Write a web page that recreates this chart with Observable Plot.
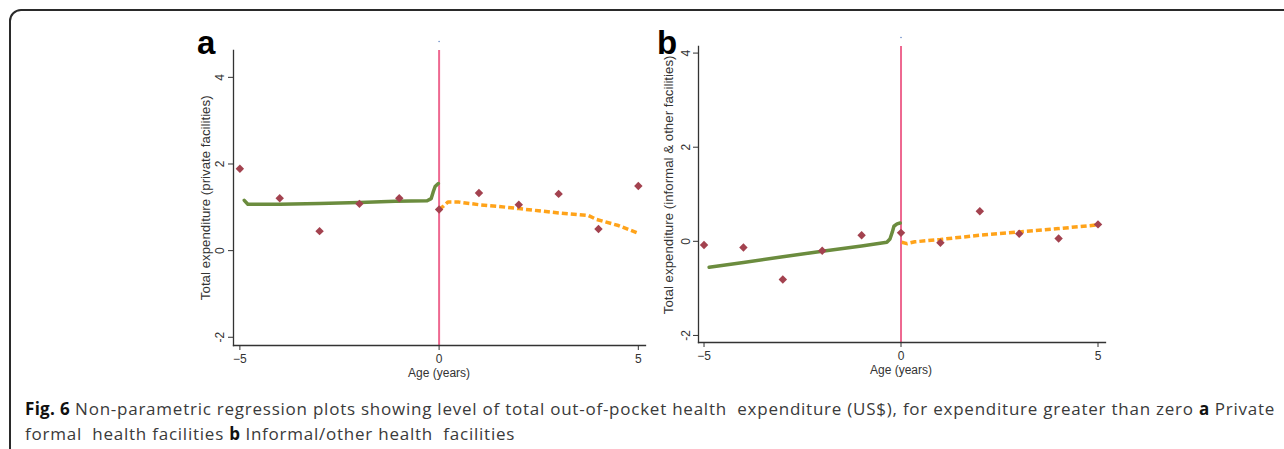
<!DOCTYPE html>
<html>
<head>
<meta charset="utf-8">
<script src="https://cdn.jsdelivr.net/npm/d3@7"></script>
<script src="https://cdn.jsdelivr.net/npm/@observablehq/plot@0.6"></script>
<style>
  html, body { margin: 0; padding: 0; background: #fff; width: 1284px; height: 449px; overflow: hidden; }
  #frame { position: absolute; left: 9px; top: 9px; width: 1300px; height: 480px; border: 2px solid #2a2a2a; border-radius: 12px; box-sizing: border-box; }
  .panel { position: absolute; top: 30px; }
  .letter { position: absolute; font-family: "Liberation Sans", Arial, sans-serif; font-weight: bold; font-size: 33px; line-height: 1; color: #000; }
  #caption { position: absolute; left: 25px; top: 396px; width: 1260px; font-family: "Open Sans", sans-serif; font-size: 17px; letter-spacing: 0.76px; line-height: 25px; color: #3a3a3a; white-space: nowrap; }
  #caption b { color: #111; letter-spacing: 0.3px; }
</style>
</head>
<body>
<div id="frame"></div>
<div class="letter" style="left:197px; top:26px;">a</div>
<div class="letter" style="left:657px; top:26px;">b</div>
<div id="panelA" class="panel" style="left:180px;"></div>
<div id="panelB" class="panel" style="left:640px;"></div>
<div id="caption"><b>Fig. 6</b> Non-parametric regression plots showing level of total out-of-pocket health&nbsp; expenditure (US$), for expenditure greater than zero <b>a</b> Private<br>formal&nbsp; health facilities <b>b</b> Informal/other health&nbsp; facilities</div>
<script>
// ---- data ----
const xTicks = [-5, 0, 5];
const yTicks = [-2, 0, 2, 4];

const ageA = [-5, -4, -3, -2, -1, 0, 1, 2, 3, 4, 5];
const pointsA = [1.89, 1.21, 0.45, 1.08, 1.21, 0.95, 1.33, 1.06, 1.31, 0.50, 1.49];

const greenXA = [-4.89, -4.8, -4.0, -3.0, -2.0, -1.1, -0.3, -0.2, -0.15, -0.1, -0.02];
const greenYA = [1.16, 1.07, 1.07, 1.09, 1.11, 1.14, 1.15, 1.2, 1.35, 1.48, 1.55];
const orangeXA = [0.0, 0.1, 0.22, 0.5, 1.0, 1.5, 2.0, 2.5, 3.0, 3.5, 3.75, 3.95, 4.5, 4.97];
const orangeYA = [0.95, 1.02, 1.12, 1.12, 1.06, 1.02, 0.97, 0.92, 0.87, 0.83, 0.81, 0.72, 0.58, 0.41];

const ageB = [-5, -4, -3, -2, -1, 0, 1, 2, 3, 4, 5];
const pointsB = [-0.08, -0.13, -0.81, -0.20, 0.13, 0.18, -0.03, 0.64, 0.16, 0.06, 0.36];

const greenXB = [-4.87, -4, -3, -2, -1, -0.36, -0.28, -0.22, -0.18, -0.1, -0.02];
const greenYB = [-0.55, -0.45, -0.33, -0.21, -0.1, -0.02, 0.05, 0.2, 0.32, 0.37, 0.39];
const orangeXB = [0.02, 0.15, 0.35, 1, 2, 3, 4, 5];
const orangeYB = [-0.02, -0.05, -0.01, 0.04, 0.13, 0.2, 0.27, 0.35];

const xTitle = "Age (years)";
const yTitleA = "Total expenditure (private facilities)";
const yTitleB = "Total expenditure (informal & other facilities)";

const zip = (xs, ys) => xs.map((x, i) => ({x, y: ys[i]}));

function panel(opts) {
  const {xDomain, yDomain, margins, pts, green, orange, yTitle, titleY, tickDx, titleDx} = opts;
  return Plot.plot({
    width: 480, height: 360,
    marginLeft: margins[0], marginRight: margins[1], marginTop: margins[2], marginBottom: margins[3],
    x: {domain: xDomain},
    y: {domain: yDomain},
    style: {fontFamily: "'Liberation Sans', Arial, sans-serif", fontSize: "12px", color: "#333", background: "transparent"},
    marks: [
      Plot.ruleX([0], {stroke: "#ee6890", strokeWidth: 2}),
      Plot.dot([0], {x: d => d, frameAnchor: "top", dy: -9, r: 0.8, fill: "#6a8cc8", stroke: null}),
      Plot.line(green, {x: "x", y: "y", stroke: "#6b8c3e", strokeWidth: 3.5}),
      Plot.line(orange, {x: "x", y: "y", stroke: "#ffa31a", strokeWidth: 3.5, strokeDasharray: "6,3", strokeLinecap: "butt", strokeLinejoin: "miter"}),
      Plot.dot(pts, {x: "x", y: "y", symbol: "diamond2", r: 3.8, fill: "#a3424f", stroke: null}),
      Plot.frame({anchor: "left", stroke: "#333", strokeWidth: 1.3}),
      Plot.frame({anchor: "bottom", stroke: "#333", strokeWidth: 1.3}),
      Plot.axisX({ticks: xTicks, tickSize: 5, tickPadding: 4, label: null, fontSize: 12, stroke: "#333"}),
      Plot.axisY({ticks: yTicks, tickSize: 5, tickFormat: () => "", label: null, stroke: "#333"}),
      Plot.text(yTicks, {x: xDomain[0], y: d => d, text: d => String(d), rotate: -90, dx: tickDx, textAnchor: "middle", lineAnchor: "middle", fontSize: 12, fill: "#333"}),
      Plot.text([xTitle], {x: 0, frameAnchor: "bottom", dy: 28, text: d => d, textAnchor: "middle", lineAnchor: "middle", fontSize: 12, fill: "#333"}),
      Plot.text([yTitle], {x: xDomain[0], y: titleY, dx: titleDx, text: d => d, rotate: -90, textAnchor: "middle", lineAnchor: "middle", fontSize: 13.3, fill: "#333"})
    ]
  });
}

document.getElementById("panelA").append(panel({
  xDomain: [-5.16, 5.18], yDomain: [-2.19, 4.62],
  margins: [53, 15, 20, 45],
  pts: zip(ageA, pointsA), green: zip(greenXA, greenYA), orange: zip(orangeXA, orangeYA),
  yTitle: yTitleA, titleY: 1.22, tickDx: -13, titleDx: -28
}));
document.getElementById("panelB").append(panel({
  xDomain: [-5.14, 5.19], yDomain: [-2.15, 4.14],
  margins: [58, 15, 16, 48],
  pts: zip(ageB, pointsB), green: zip(greenXB, greenYB), orange: zip(orangeXB, orangeYB),
  yTitle: yTitleB, titleY: 1.2, tickDx: -12, titleDx: -30
}));
</script>
</body>
</html>
